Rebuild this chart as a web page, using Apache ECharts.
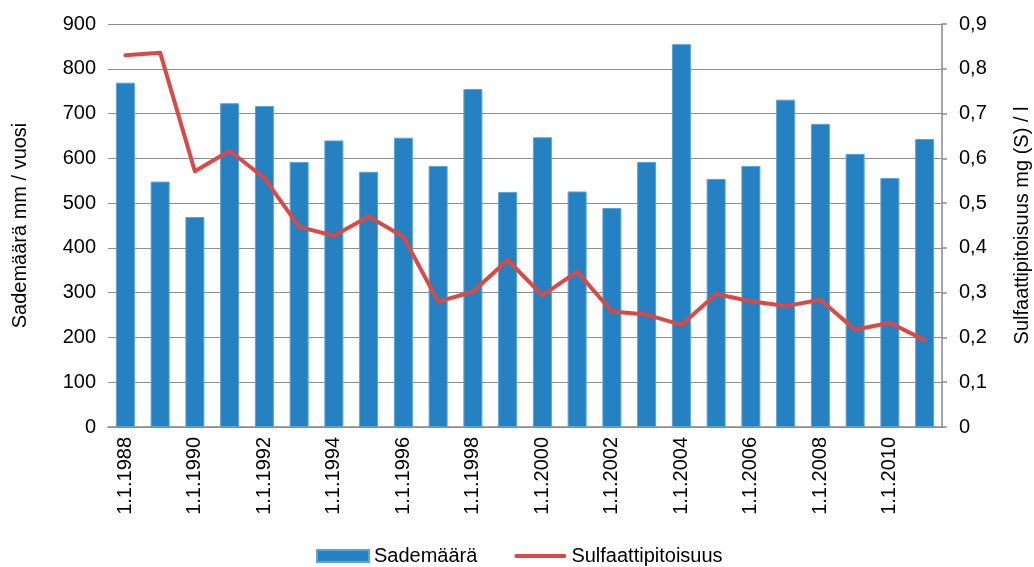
<!DOCTYPE html>
<html>
<head>
<meta charset="utf-8">
<script src="https://cdn.jsdelivr.net/npm/echarts@6/dist/echarts.min.js"></script>
<style>
html,body{margin:0;padding:0;background:#fff;overflow:hidden;}
#chart{width:1034px;height:567px;}
</style>
</head>
<body>
<div id="chart"></div>
<script>
const years = [1988,1989,1990,1991,1992,1993,1994,1995,1996,1997,1998,1999,2000,2001,2002,2003,2004,2005,2006,2007,2008,2009,2010,2011];
const categories = years.map(y => '1.1.' + y);
const sademaara = [769,548,469,723,717,592,640,570,646,583,755,525,647,526,489,592,855,554,583,731,677,610,556,643];
const sulfaatti = [0.830,0.836,0.571,0.617,0.556,0.447,0.427,0.470,0.425,0.280,0.302,0.373,0.294,0.347,0.258,0.251,0.228,0.297,0.281,0.270,0.284,0.217,0.233,0.194];
const leftTicks = {min:0, max:900, interval:100};
const rightTicks = {min:0, max:0.9, interval:0.1};

const FONT = 'Liberation Sans, Arial, sans-serif';
const chart = echarts.init(document.getElementById('chart'), null, {renderer:'canvas', width:1034, height:567});
chart.setOption({
  animation:false,
  backgroundColor:'#fff',
  textStyle:{fontFamily:FONT, color:'#000'},
  grid:{left:108, width:834, top:24, height:403, containLabel:false, outerBoundsMode:'none'},
  legend:{
    left:316, top:546, padding:0, itemWidth:52, itemHeight:12, itemGap:37, itemTextGap:5,
    textStyle:{fontSize:20, color:'#000', fontFamily:FONT},
    data:[
      {name:'Sademäärä', icon:'rect'},
      {name:'Sulfaattipitoisuus', icon:'path://M2,0 L51,0 A2,2 0 0 1 51,4 L2,4 A2,2 0 0 1 2,0 Z'}
    ]
  },
  xAxis:{
    type:'category', data:categories, boundaryGap:true,
    axisLine:{show:true, lineStyle:{color:'#8a8a8a', width:1.5}},
    axisTick:{show:false},
    axisLabel:{interval:1, rotate:90, fontSize:20, color:'#000', margin:10, fontFamily:FONT}
  },
  yAxis:[
    {
      type:'value', min:leftTicks.min, max:leftTicks.max, interval:leftTicks.interval,
      name:'Sademäärä mm / vuosi', nameLocation:'middle', nameGap:78, nameRotate:90,
      nameTextStyle:{fontSize:20, color:'#000', fontFamily:FONT},
      axisLine:{show:false}, axisTick:{show:false},
      axisLabel:{fontSize:20, color:'#000', margin:12, fontFamily:FONT},
      splitLine:{show:true, lineStyle:{color:'#8e8e8e', width:1}}
    },
    {
      type:'value', position:'right', min:rightTicks.min, max:rightTicks.max, interval:rightTicks.interval,
      name:'Sulfaattipitoisuus mg (S) / l', nameLocation:'middle', nameGap:70, nameRotate:90,
      nameTextStyle:{fontSize:20, color:'#000', fontFamily:FONT},
      axisLine:{show:true, lineStyle:{color:'#8a8a8a', width:1.5}},
      axisTick:{show:true, length:5, inside:false, lineStyle:{color:'#8a8a8a', width:1.5}},
      axisLabel:{fontSize:20, color:'#000', margin:17, fontFamily:FONT,
        formatter:v => v === 0 ? '0' : v.toFixed(1).replace('.', ',')},
      splitLine:{show:false}
    }
  ],
  series:[
    {
      name:'Sademäärä', type:'bar', yAxisIndex:0, data:sademaara, barWidth:19,
      itemStyle:{color:'#2581c1', borderColor:'#5aa3d6', borderWidth:1}
    },
    {
      name:'Sulfaattipitoisuus', type:'line', yAxisIndex:1, data:sulfaatti,
      showSymbol:false, symbol:'none',
      lineStyle:{color:'#d94a47', width:4, cap:'round', join:'round'},
      itemStyle:{color:'#d94a47'}
    }
  ]
});
</script>
</body>
</html>
